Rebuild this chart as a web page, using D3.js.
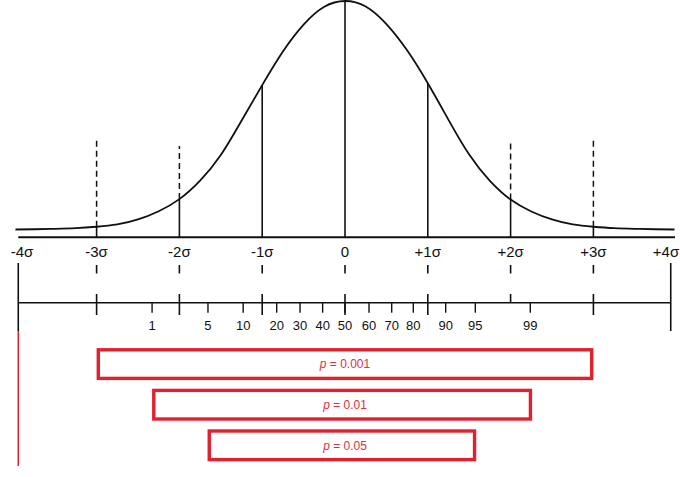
<!DOCTYPE html>
<html>
<head>
<meta charset="utf-8">
<script src="https://cdn.jsdelivr.net/npm/d3@7/dist/d3.min.js"></script>
<style>
  html, body { margin: 0; padding: 0; background: #fff; }
  svg { display: block; }
</style>
</head>
<body>
<svg id="chart" width="680" height="477"></svg>
<script>
// ---------- data ----------
// normal curve samples: z position and relative height (peak = 1)
const curveZ = [-3.98, -3.75, -3.5, -3.25, -3, -2.75, -2.5, -2.25, -2, -1.75, -1.5, -1.25, -1, -0.75, -0.5, -0.25, 0,
                0.25, 0.5, 0.75, 1, 1.25, 1.5, 1.75, 2, 2.25, 2.5, 2.75, 3, 3.25, 3.5, 3.75, 3.98];
const curveH = [0.0, 0.001, 0.003, 0.006, 0.012, 0.022, 0.044, 0.08, 0.133, 0.214, 0.326, 0.476, 0.632, 0.779, 0.897, 0.975, 1,
                0.976, 0.899, 0.784, 0.640, 0.480, 0.328, 0.213, 0.131, 0.079, 0.044, 0.022, 0.012, 0.006, 0.003, 0.001, 0.0];

// sigma labels
const sigmaZ = [-4, -3, -2, -1, 0, 1, 2, 3, 4];
const sigmaLabels = ["-4σ", "-3σ", "-2σ", "-1σ", "0", "+1σ", "+2σ", "+3σ", "+4σ"];

// solid verticals under the curve
const solidZ = [-3, -2, -1, 0, 1, 2, 3];
// dashed verticals above the curve (top height, relative)
const dashZ = [-3, -2, 2, 3];
const dashTop = [0.392, 0.365, 0.392, 0.392];

// edge (±4σ) lines as drawn
const edgeZ = [-3.946, 3.934];

// percentile scale
const pctLabels = ["1", "5", "10", "20", "30", "40", "50", "60", "70", "80", "90", "95", "99"];
const pctZ = [-2.33, -1.655, -1.23, -0.825, -0.543, -0.27, 0, 0.29, 0.564, 0.825, 1.216, 1.574, 2.238];

// major ticks on the percentile axis (z) and whether they extend below the axis
const majorZ = [-3, -2, -1, 0, 1, 2, 3];
const majorBelow = [true, true, true, true, true, false, true];

// significance boxes
const boxLabels = ["0.001", "0.01", "0.05"];
const boxLo = [-3, -2.33, -1.66];
const boxHi = [3, 2.26, 1.585];

// ---------- scales ----------
const svg = d3.select("#chart");
const x = d3.scaleLinear().domain([-4, 4]).range([13.8, 676.2]);
const y = d3.scaleLinear().domain([0, 1]).range([229.5, 1]);

const axisY = 237.3;
const hAt = z => curveH[curveZ.indexOf(z)];

const black = "#111";
const red = "#e2212f";

// ---------- top axis line ----------
svg.append("line")
  .attr("x1", x(edgeZ[0])).attr("x2", 675)
  .attr("y1", axisY).attr("y2", axisY)
  .attr("stroke", black).attr("stroke-width", 2);

// ---------- solid verticals ----------
svg.append("g").selectAll("line").data(solidZ).join("line")
  .attr("x1", d => x(d)).attr("x2", d => x(d))
  .attr("y1", axisY).attr("y2", d => y(hAt(d)))
  .attr("stroke", black).attr("stroke-width", 1.6);

// ---------- dashed verticals ----------
svg.append("g").selectAll("line").data(dashZ).join("line")
  .attr("x1", d => x(d)).attr("x2", d => x(d))
  .attr("y1", d => y(hAt(d))).attr("y2", (d, i) => y(dashTop[i]))
  .attr("stroke", black).attr("stroke-width", 1.5)
  .attr("stroke-dasharray", "6,4");

// ---------- curve ----------
const pts = curveZ.map((z, i) => [x(z), y(curveH[i])]);
svg.append("path")
  .attr("d", d3.line().curve(d3.curveNatural)(pts))
  .attr("fill", "none").attr("stroke", black).attr("stroke-width", 1.8);

// ---------- sigma labels ----------
svg.append("g").selectAll("text").data(sigmaZ).join("text")
  .attr("x", d => Math.max(22, Math.min(666, x(d))))
  .attr("y", 257)
  .attr("text-anchor", "middle")
  .attr("font-family", "Liberation Sans, Arial, sans-serif")
  .attr("font-size", 15)
  .attr("fill", black)
  .text((d, i) => sigmaLabels[i]);

// short ticks under sigma labels
svg.append("g").selectAll("line").data(sigmaZ.filter(d => Math.abs(d) < 4)).join("line")
  .attr("x1", d => x(d)).attr("x2", d => x(d))
  .attr("y1", 265).attr("y2", 273.5)
  .attr("stroke", black).attr("stroke-width", 1.6);

// ---------- edge lines ----------
svg.append("g").selectAll("line").data(edgeZ).join("line")
  .attr("x1", d => x(d)).attr("x2", d => x(d))
  .attr("y1", 263).attr("y2", 331)
  .attr("stroke", black).attr("stroke-width", 1.6);

svg.append("line")
  .attr("x1", x(edgeZ[0])).attr("x2", x(edgeZ[0]))
  .attr("y1", 331).attr("y2", 466)
  .attr("stroke", red).attr("stroke-width", 1.5);

// ---------- percentile axis ----------
const pY = 302.7;
svg.append("line")
  .attr("x1", x(edgeZ[0])).attr("x2", x(edgeZ[1]))
  .attr("y1", pY).attr("y2", pY)
  .attr("stroke", black).attr("stroke-width", 1.6);

svg.append("g").selectAll("line").data(majorZ).join("line")
  .attr("x1", d => x(d)).attr("x2", d => x(d))
  .attr("y1", 294).attr("y2", (d, i) => majorBelow[i] ? 315 : pY)
  .attr("stroke", black).attr("stroke-width", 1.6);

svg.append("g").selectAll("line").data(pctZ).join("line")
  .attr("x1", d => x(d)).attr("x2", d => x(d))
  .attr("y1", pY).attr("y2", 312.7)
  .attr("stroke", black).attr("stroke-width", 1.4);

svg.append("g").selectAll("text").data(pctZ).join("text")
  .attr("x", d => x(d))
  .attr("y", 330)
  .attr("text-anchor", "middle")
  .attr("font-family", "Liberation Sans, Arial, sans-serif")
  .attr("font-size", 13)
  .attr("fill", black)
  .text((d, i) => pctLabels[i]);

// ---------- significance boxes ----------
const boxTop0 = 349.8, boxH = 28.6, boxStep = 40.6, sw = 3.4;
const boxes = svg.append("g").selectAll("g").data(boxLabels).join("g");
boxes.append("rect")
  .attr("x", (d, i) => x(boxLo[i]) + sw / 2)
  .attr("y", (d, i) => boxTop0 + i * boxStep)
  .attr("width", (d, i) => x(boxHi[i]) - x(boxLo[i]) - sw)
  .attr("height", boxH)
  .attr("fill", "none").attr("stroke", red).attr("stroke-width", sw);

const bt = boxes.append("text")
  .attr("x", 345)
  .attr("y", (d, i) => boxTop0 + i * boxStep + boxH / 2 + 4.2)
  .attr("text-anchor", "middle")
  .attr("font-family", "Liberation Sans, Arial, sans-serif")
  .attr("font-size", 12)
  .attr("fill", "#e0303c");
bt.append("tspan").attr("font-style", "italic").text("p");
bt.append("tspan").text(d => " = " + d);
</script>
</body>
</html>
